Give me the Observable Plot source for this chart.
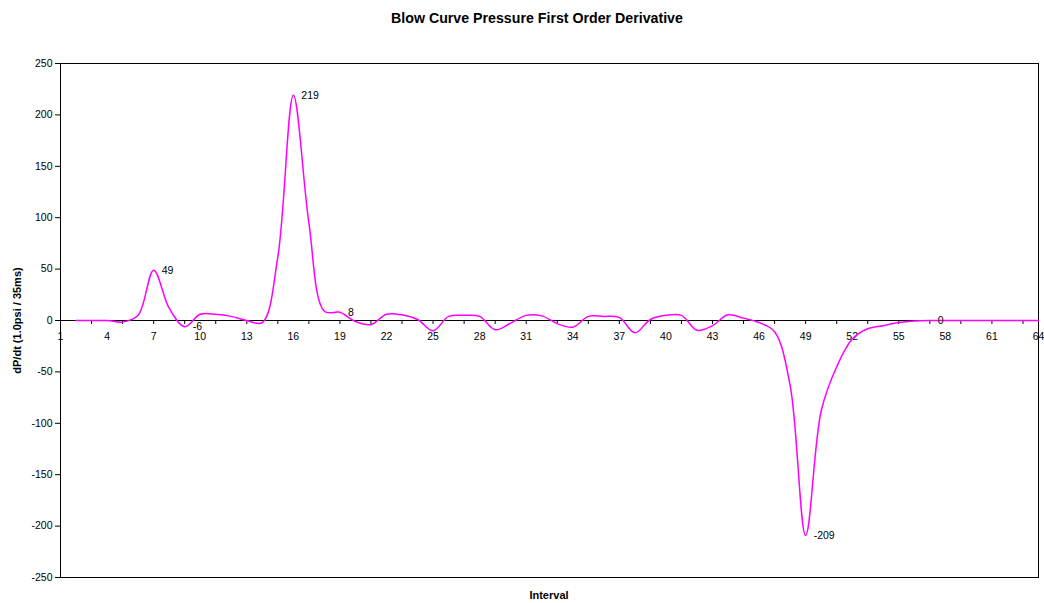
<!DOCTYPE html>
<html>
<head>
<meta charset="utf-8">
<script src="https://cdn.jsdelivr.net/npm/d3@7"></script>
<script src="https://cdn.jsdelivr.net/npm/@observablehq/plot@0.6"></script>
<style>
  body { margin: 0; background: #fff; font-family: "Liberation Sans", Arial, sans-serif; color: #000; }
  #wrap { width: 1044px; height: 603px; overflow: hidden; }
  #title { height: 36px; line-height: 36px; text-align: center; font-weight: bold; font-size: 14.2px; padding-left: 30px; box-sizing: border-box; }
  #xtitle { height: 15px; line-height: 15px; text-align: center; font-weight: bold; font-size: 11px; padding-left: 60px; padding-right: 6px; box-sizing: border-box; }
  #chart svg { display: block; }
</style>
</head>
<body>
<div id="wrap">
  <div id="title">Blow Curve Pressure First Order Derivative</div>
  <div id="chart"></div>
  <div id="xtitle">Interval</div>
</div>
<script>
// Interval categories (the derivative starts at interval 2)
const intervals = [2,3,4,5,6,7,8,9,10,11,12,13,14,15,16,17,18,19,20,21,22,23,24,25,26,27,28,29,30,31,32,33,
  34,35,36,37,38,39,40,41,42,43,44,45,46,47,48,49,50,51,52,53,54,55,56,57,58,59,60,61,62,63,64];
// dP/dt values
const dPdt = [0,0,0,-1.5,5,49,12,-6,6,6,4,0,-2,62,219,95,9,8,-1,-4,6,5.5,1,-10,4,5,4,-9,-2.5,5,4.5,-3,
  -6.5,4,4,3,-12,1,5,5,-9.5,-5,5.5,2.3,-2,-11,-63,-209,-88,-45,-18,-8,-5,-2,-0.5,0,0,0,0,0,0,0,0];
// Intervals carrying a data label
const labelledIntervals = [7, 9, 16, 19, 49, 57];
// Axis ticks
const xTickMarks = [1,3,5,7,9,11,13,15,17,19,21,23,25,27,29,31,33,35,37,39,41,43,45,47,49,51,53,55,57,59,61,63];
const xTickLabels = [1,4,7,10,13,16,19,22,25,28,31,34,37,40,43,46,49,52,55,58,61,64];
const yTicks = [-250,-200,-150,-100,-50,0,50,100,150,200,250];

const data = intervals.map((x, i) => ({interval: x, value: dPdt[i]}));
const labelled = data.filter(d => labelledIntervals.includes(d.interval));

const chart = Plot.plot({
  width: 1044,
  height: 552,
  marginTop: 27,
  marginBottom: 11,
  marginLeft: 60,
  marginRight: 6,
  style: { fontFamily: "'Liberation Sans', Arial, sans-serif", fontSize: "10.5px", background: "white", color: "#000", overflow: "visible" },
  x: { domain: [1, 64], axis: null },
  y: { domain: [-250, 250] },
  marks: [
    Plot.frame({ stroke: "#000" }),
    Plot.axisY(yTicks, { tickSize: 5, tickPadding: 3, tickFormat: d => String(d), label: null }),
    Plot.ruleY([0], { stroke: "#000" }),
    Plot.ruleX(xTickMarks, { x: d => d, y1: 0, y2: 0, insetBottom: -4, stroke: "#000" }),
    Plot.text(xTickLabels, { x: d => d, y: 0, text: d => String(d), dy: 16 }),
    Plot.line(data, { x: "interval", y: "value", curve: "catmull-rom", stroke: "#FF00FF", strokeWidth: 1.5 }),
    Plot.text(labelled, { x: "interval", y: "value", text: d => String(d.value), textAnchor: "start", dx: 8 }),
    Plot.text(["dP/dt (1.0psi / 35ms)"], { frameAnchor: "left", textAnchor: "middle", dx: -43, rotate: -90, fontWeight: "bold", fontSize: 11 })
  ]
});
document.getElementById("chart").appendChild(chart);
</script>
</body>
</html>
